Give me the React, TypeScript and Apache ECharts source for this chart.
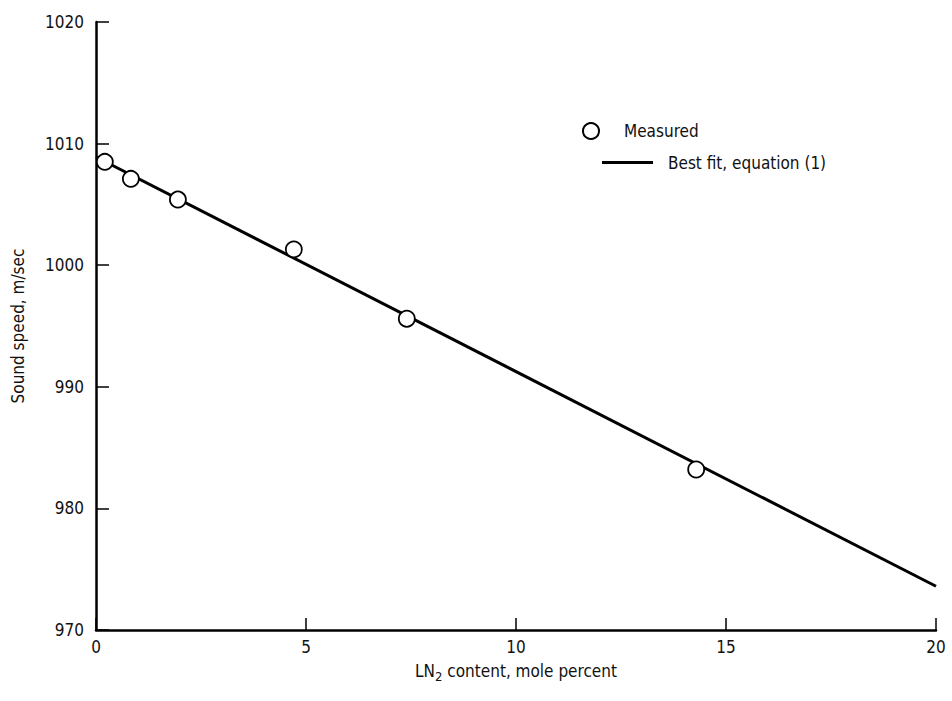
import React, { useEffect, useRef } from "react";
import * as echarts from "echarts";

const measuredX = [0.21, 0.83, 1.95, 4.71, 7.4, 14.29];
const measuredY = [1008.5, 1007.1, 1005.4, 1001.3, 995.6, 983.2];
const fitX = [0, 20];
const fitY = [1008.9, 973.6];
const xTicks = [0, 5, 10, 15, 20];
const yTicks = [970, 980, 990, 1000, 1010, 1020];

const FONT = "'DejaVu Sans Condensed', 'Liberation Sans Narrow', sans-serif";

export default function App() {
  const ref = useRef<HTMLDivElement>(null);
  useEffect(() => {
    if (!ref.current) return;
    const chart = echarts.init(ref.current, undefined, { renderer: "svg" });
    const option = {
      animation: false,
      backgroundColor: "#ffffff",
      grid: { left: 96, right: 16, top: 22, bottom: 71, containLabel: false, outerBoundsMode: "none" },
      legend: [
        {
          data: ["Measured"],
          left: 577,
          top: 117,
          itemWidth: 16,
          itemHeight: 16,
          textStyle: { fontFamily: FONT, fontSize: 17, color: "#111", padding: [0, 0, 0, 20] },
        },
        {
          data: [{ name: "Best fit, equation (1)", icon: "rect" }],
          left: 597,
          top: 149,
          itemWidth: 51,
          itemHeight: 3,
          itemStyle: { color: "#000" },
          textStyle: { fontFamily: FONT, fontSize: 17, color: "#111", padding: [0, 0, 0, 10] },
        },
      ],
      xAxis: {
        type: "value",
        min: 0,
        max: 20,
        interval: 5,
        name: "LN{sub|2} content, mole percent",
        nameLocation: "middle",
        nameGap: 28,
        nameTextStyle: {
          fontFamily: FONT,
          fontSize: 17,
          color: "#111",
          rich: { sub: { fontFamily: FONT, fontSize: 13, color: "#111", verticalAlign: "bottom", padding: [12, 0, 0, 0] } },
        },
        axisLine: { show: true, lineStyle: { color: "#000", width: 2.5 } },
        axisTick: { show: true, inside: true, length: 12, lineStyle: { color: "#000", width: 1.5 } },
        axisLabel: {
          fontFamily: FONT,
          fontSize: 17,
          color: "#111",
          margin: 8,
          formatter: (v: number) => (xTicks.includes(v) ? String(v) : ""),
        },
        splitLine: { show: false },
      },
      yAxis: {
        type: "value",
        min: 970,
        max: 1020,
        interval: 10,
        name: "Sound speed, m/sec",
        nameLocation: "middle",
        nameGap: 70,
        nameTextStyle: { fontFamily: FONT, fontSize: 17, color: "#111" },
        axisLine: { show: true, lineStyle: { color: "#000", width: 2.5 } },
        axisTick: { show: true, inside: true, length: 13, lineStyle: { color: "#000", width: 1.5 } },
        axisLabel: {
          fontFamily: FONT,
          fontSize: 17,
          color: "#111",
          margin: 12,
          formatter: (v: number) => (yTicks.includes(v) ? String(v) : ""),
        },
        splitLine: { show: false },
      },
      series: [
        {
          name: "Best fit, equation (1)",
          type: "line",
          data: fitX.map((x, i) => [x, fitY[i]]),
          symbol: "none",
          lineStyle: { color: "#000", width: 3 },
          itemStyle: { color: "#000" },
          z: 2,
        },
        {
          name: "Measured",
          type: "scatter",
          data: measuredX.map((x, i) => [x, measuredY[i]]),
          symbol: "circle",
          symbolSize: 16,
          itemStyle: { color: "#fff", borderColor: "#000", borderWidth: 1.8, opacity: 1 },
          z: 3,
        },
      ],
    };
    chart.setOption(option as any);
    return () => chart.dispose();
  }, []);
  return <div ref={ref} style={{ position: "absolute", left: 0, top: 0, width: 952, height: 701 }} />;
}
